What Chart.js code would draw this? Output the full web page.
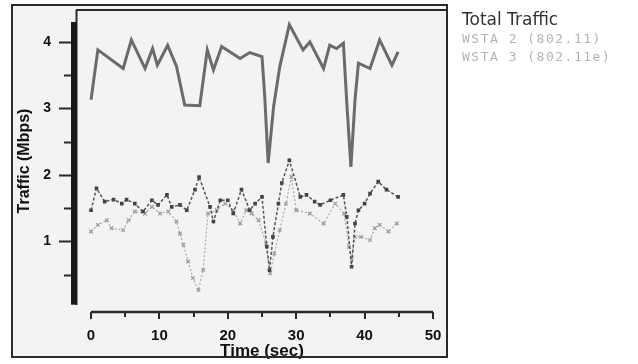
<!DOCTYPE html>
<html><head><meta charset="utf-8">
<script src="https://cdn.jsdelivr.net/npm/chart.js@4/dist/chart.umd.min.js"></script>
<style>html,body{margin:0;padding:0;background:#fff;}#wrap{width:638px;height:364px;}</style>
</head><body><div id="wrap"><canvas id="c" width="638" height="364"></canvas></div>
<script>
// ---- data ----
const seriesNames = ['Total Traffic', 'WSTA 2 (802.11)', 'WSTA 3 (802.11e)'];
const totalTime = [0, 1, 4.7, 5.9, 7.9, 9, 9.7, 11.2, 12.5, 13.7, 15.9, 17, 17.9, 19.1, 21.8, 23.2, 25, 25.4, 25.9, 26.7, 27.6, 29, 31, 32, 34, 34.9, 35.9, 36.9, 37.4, 38, 38.6, 39.1, 40.8, 42.2, 44, 44.9];
const totalTraffic = [3.13, 3.88, 3.6, 4.03, 3.6, 3.9, 3.65, 3.95, 3.63, 3.05, 3.04, 3.88, 3.58, 3.93, 3.75, 3.84, 3.78, 3.18, 2.18, 3.03, 3.63, 4.26, 3.88, 4.0, 3.6, 3.95, 3.9, 3.98, 3.08, 2.12, 3.13, 3.68, 3.6, 4.03, 3.65, 3.85];
const wsta2Time = [0, 0.8, 2, 3.3, 4.5, 5.2, 6.4, 7.6, 8.9, 9.8, 11.1, 11.8, 13, 14, 15.2, 15.8, 17.4, 17.9, 18.9, 20, 20.8, 22, 23.2, 24, 25, 25.7, 26.1, 26.6, 27.4, 27.9, 29, 30.6, 31.5, 32.7, 33.5, 35, 36.9, 37.4, 38.1, 38.6, 39.1, 40, 40.8, 42, 43.2, 44.9];
const wsta2Traffic = [1.47, 1.8, 1.6, 1.63, 1.57, 1.63, 1.57, 1.45, 1.62, 1.55, 1.7, 1.52, 1.55, 1.47, 1.78, 1.97, 1.52, 1.3, 1.62, 1.62, 1.42, 1.78, 1.47, 1.57, 1.67, 0.92, 0.57, 1.07, 1.57, 1.88, 2.22, 1.67, 1.7, 1.6, 1.55, 1.62, 1.7, 1.37, 0.62, 1.27, 1.47, 1.57, 1.72, 1.9, 1.78, 1.67];
const wsta3Time = [0, 1, 2.3, 3, 4.7, 5.5, 6.4, 7.9, 8.9, 10.1, 11.3, 12.5, 13, 13.5, 14.2, 14.9, 15.7, 16.4, 17.1, 18.4, 19.6, 20.8, 21.8, 22.7, 23.5, 24.5, 25.6, 26.2, 26.8, 27.6, 28.5, 29.3, 30, 32, 34, 35.7, 37, 37.7, 38.1, 38.6, 39.5, 40.8, 41.5, 42.2, 43.5, 44.7];
const wsta3Traffic = [1.15, 1.25, 1.32, 1.2, 1.17, 1.32, 1.45, 1.42, 1.52, 1.42, 1.45, 1.3, 1.12, 0.95, 0.7, 0.45, 0.27, 0.57, 1.42, 1.47, 1.57, 1.47, 1.27, 1.47, 1.42, 1.32, 0.97, 0.52, 0.82, 1.17, 1.57, 1.97, 1.47, 1.42, 1.27, 1.57, 1.42, 0.92, 0.75, 1.07, 1.07, 1.02, 1.2, 1.25, 1.15, 1.27];
const xTickValues = [0, 10, 20, 30, 40, 50];
const xMinorTicks = [5, 15, 25, 35, 45];
const yTickValues = [1, 2, 3, 4];
const yMinorTicks = [0.5, 1.5, 2.5, 3.5];
const xAxisTitle = 'Time (sec)';
const yAxisTitle = 'Traffic (Mbps)';

const pts = (xs, ys) => xs.map((x, i) => ({ x: x, y: ys[i] }));

const frame = {
  id: 'frame',
  beforeDraw(chart) {
    const c = chart.ctx;
    c.save();
    c.fillStyle = '#f3f3f3';
    c.fillRect(12, 5, 435, 352);
    c.restore();
  },
  afterDraw(chart) {
    const c = chart.ctx, xs = chart.scales.x, ys = chart.scales.y;
    c.save();
    c.strokeStyle = '#2a2a2a';
    c.lineWidth = 2;
    c.strokeRect(12, 5, 435, 352);
    c.beginPath();
    c.moveTo(76, 10); c.lineTo(447, 10);
    c.moveTo(76.5, 10); c.lineTo(76.5, 305);
    c.stroke();
    // y axis
    c.fillStyle = '#1a1a1a';
    const yTop = ys.getPixelForValue(4.3), yBot = ys.getPixelForValue(0.05);
    c.fillRect(71, yTop, 6, yBot - yTop);
    c.lineWidth = 2;
    c.beginPath();
    yTickValues.forEach(v => { const p = Math.round(ys.getPixelForValue(v)) + 0.5; c.moveTo(59, p); c.lineTo(71, p); });
    yMinorTicks.forEach(v => { const p = Math.round(ys.getPixelForValue(v)) + 0.5; c.moveTo(64, p); c.lineTo(71, p); });
    c.stroke();
    // x axis
    const xl = xs.getPixelForValue(0), xr = xs.getPixelForValue(50);
    const xa = chart.chartArea.bottom;
    c.lineWidth = 2.5;
    c.beginPath();
    c.moveTo(xl, xa); c.lineTo(xr, xa);
    c.stroke();
    c.lineWidth = 2;
    c.beginPath();
    xTickValues.forEach(v => { const p = Math.round(xs.getPixelForValue(v)); c.moveTo(p, xa); c.lineTo(p, xa + 7); });
    xMinorTicks.forEach(v => { const p = Math.round(xs.getPixelForValue(v)); c.moveTo(p, xa); c.lineTo(p, xa + 5); });
    c.stroke();
    // legend
    c.textBaseline = 'middle';
    c.textAlign = 'left';
    c.fillStyle = '#333';
    c.font = '17px "DejaVu Sans"';
    c.fillText(seriesNames[0], 462, 21);
    c.fillStyle = '#b4b4b4';
    c.font = '13px "DejaVu Sans Mono"';
    if ('letterSpacing' in c) c.letterSpacing = '1.5px';
    c.fillText(seriesNames[1], 462, 40);
    c.fillText(seriesNames[2], 462, 58);
    c.restore();
  }
};

new Chart(document.getElementById('c'), {
  type: 'line',
  data: {
    datasets: [
      { label: seriesNames[0], data: pts(totalTime, totalTraffic), borderColor: '#6b6b6b', borderWidth: 3, pointRadius: 0, tension: 0 },
      { label: seriesNames[1], data: pts(wsta2Time, wsta2Traffic), borderColor: '#555', borderWidth: 1.5, borderDash: [3, 2], pointStyle: 'rect', pointRadius: 1.5, pointBackgroundColor: '#444', pointBorderColor: '#444', tension: 0 },
      { label: seriesNames[2], data: pts(wsta3Time, wsta3Traffic), borderColor: '#aaa', borderWidth: 1.2, borderDash: [2, 2], pointStyle: 'crossRot', pointRadius: 2.5, pointBorderColor: '#999', tension: 0 }
    ]
  },
  options: {
    responsive: false, animation: false, devicePixelRatio: 1,
    layout: { padding: { left: 12, top: 10, right: 191, bottom: 2 } },
    plugins: { legend: { display: false }, tooltip: { enabled: false } },
    scales: {
      x: {
        type: 'linear', min: -2.05, max: 52.05,
        afterFit: s => { s.height = 50; s.paddingLeft = 0; s.paddingRight = 0; s.paddingTop = 0; s.paddingBottom = 0; },
        afterBuildTicks: s => { s.ticks = xTickValues.map(v => ({ value: v })); },
        grid: { display: false, drawTicks: false }, border: { display: false },
        ticks: { padding: 15, color: '#111', maxRotation: 0, font: { family: '"Liberation Sans", Arial', size: 15, weight: 'bold' } },
        title: { display: true, text: xAxisTitle, color: '#111', padding: { top: 0, bottom: 0 }, font: { family: '"Liberation Sans", Arial', size: 17, weight: 'bold' } }
      },
      y: {
        type: 'linear', min: -0.06, max: 4.48,
        afterFit: s => { s.width = 65; s.paddingTop = 0; s.paddingBottom = 0; s.paddingLeft = 0; s.paddingRight = 0; },
        afterBuildTicks: s => { s.ticks = yTickValues.map(v => ({ value: v })); },
        grid: { display: false, drawTicks: false }, border: { display: false },
        ticks: { padding: 26, color: '#111', font: { family: '"Liberation Sans", Arial', size: 14, weight: 'bold' } },
        title: { display: true, text: yAxisTitle, color: '#111', padding: { top: 3, bottom: 0 }, font: { family: '"Liberation Sans", Arial', size: 16, weight: 'bold' } }
      }
    }
  },
  plugins: [frame]
});
</script></body></html>
